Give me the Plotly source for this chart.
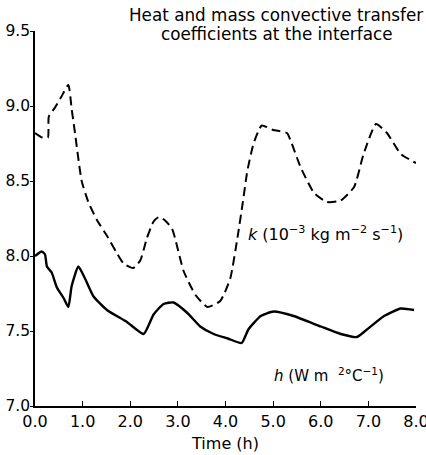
import plotly.graph_objects as go

# Time (h)
k_time = [0.0, 0.15, 0.27, 0.29, 0.42, 0.55, 0.70, 0.77, 0.84, 0.98, 1.12, 1.30, 1.52, 1.70, 1.86, 2.06,
          2.21, 2.35, 2.49, 2.60, 2.72, 2.88, 3.12, 3.37, 3.62, 3.89, 4.10, 4.25, 4.36, 4.46, 4.59,
          4.76, 5.00, 5.29, 5.39, 5.58, 5.86, 6.13, 6.42, 6.70, 6.90, 7.16, 7.39, 7.68, 8.00]
# Mass convective transfer coefficient k (10^-3 kg m^-2 s^-1)
k_vals = [8.82, 8.79, 8.79, 8.93, 8.99, 9.06, 9.14, 8.98, 8.82, 8.50, 8.36, 8.24, 8.13, 8.03, 7.95, 7.92,
          7.97, 8.12, 8.23, 8.26, 8.24, 8.18, 7.90, 7.74, 7.66, 7.70, 7.85, 8.12, 8.35, 8.57, 8.75,
          8.87, 8.84, 8.82, 8.75, 8.59, 8.42, 8.36, 8.37, 8.46, 8.68, 8.88, 8.82, 8.68, 8.62]

h_time = [0.0, 0.14, 0.21, 0.25, 0.35, 0.46, 0.60, 0.70, 0.77, 0.91, 1.05, 1.23, 1.51, 1.93, 2.28,
          2.49, 2.70, 2.91, 3.20, 3.47, 3.75, 4.05, 4.34, 4.48, 4.74, 5.01, 5.43, 6.00, 6.42, 6.76,
          6.97, 7.33, 7.68, 7.96]
# Heat convective transfer coefficient h (W m^-2 °C^-1)
h_vals = [8.00, 8.03, 8.01, 7.93, 7.89, 7.79, 7.72, 7.66, 7.80, 7.93, 7.85, 7.73, 7.64, 7.56, 7.48,
          7.61, 7.68, 7.69, 7.62, 7.53, 7.48, 7.45, 7.42, 7.51, 7.60, 7.63, 7.60, 7.53, 7.48, 7.46,
          7.51, 7.60, 7.65, 7.64]

x_ticks = [0, 1, 2, 3, 4, 5, 6, 7, 8]
x_tick_text = ["0.0", "1.0", "2.0", "3.0", "4.0", "5.0", "6.0", "7.0", "8.0"]
y_ticks = [7.0, 7.5, 8.0, 8.5, 9.0, 9.5]
y_tick_text = ["7.0", "7.5", "8.0", "8.5", "9.0", "9.5"]
title_lines = ["Heat and mass convective transfer", "coefficients at the interface"]

W, H = 426, 455
L, R, T, B = 35, 10, 31, 49
PW, PH = W - L - R, H - T - B
FONT = "DejaVu Sans, Verdana, sans-serif"
TXT = dict(family=FONT, size=16, color="black")

fig = go.Figure()
fig.add_trace(go.Scatter(x=k_time, y=k_vals, mode="lines",
                         line=dict(color="black", width=2, dash="9px,5px",
                                   shape="spline", smoothing=0.5)))
fig.add_trace(go.Scatter(x=h_time, y=h_vals, mode="lines",
                         line=dict(color="black", width=2.4, shape="spline", smoothing=0.5)))

# two-line heading, placed line by line for tight spacing (pixel -> paper coords)
for i, line in enumerate(title_lines):
    px, py = 276, 15 + 19 * i
    fig.add_annotation(x=(px - L) / PW, y=(H - B - py) / PH, xref="paper", yref="paper",
                       showarrow=False, text=line,
                       font=dict(family=FONT, size=16.8, color="black"),
                       xanchor="center", yanchor="middle")

fig.add_annotation(x=4.42, y=8.15, showarrow=False, xanchor="left",
                   text="<i>k</i> (10<sup>−3</sup> kg m<sup>−2</sup> s<sup>−1</sup>)",
                   font=TXT)
fig.add_annotation(x=4.98, y=7.21, showarrow=False, xanchor="left",
                   text="<i>h</i> (W m  <sup>2</sup>°C<sup>−1</sup>)",
                   font=dict(family=FONT, size=15, color="black"))

fig.update_xaxes(range=[0, 8], tickvals=x_ticks, ticktext=x_tick_text, ticks="inside",
                 ticklen=5, tickcolor="black", showline=True, linecolor="black", linewidth=1.5,
                 showgrid=False, zeroline=False, ticklabeloverflow="allow", automargin=False,
                 title=dict(text="Time (h)", font=TXT, standoff=8),
                 tickfont=TXT)
fig.update_yaxes(range=[7.0, 9.5], tickvals=y_ticks, ticktext=y_tick_text, ticks="outside",
                 ticklen=3, tickcolor="black", showline=True, linecolor="black", linewidth=1.5,
                 showgrid=False, zeroline=False, automargin=False, ticklabelstandoff=-3,
                 tickfont=dict(family=FONT, size=15.5, color="black"))

fig.update_layout(width=W, height=H, showlegend=False,
                  margin=dict(l=L, r=R, t=T, b=B),
                  paper_bgcolor="white", plot_bgcolor="white")

fig.write_html("out.html")
